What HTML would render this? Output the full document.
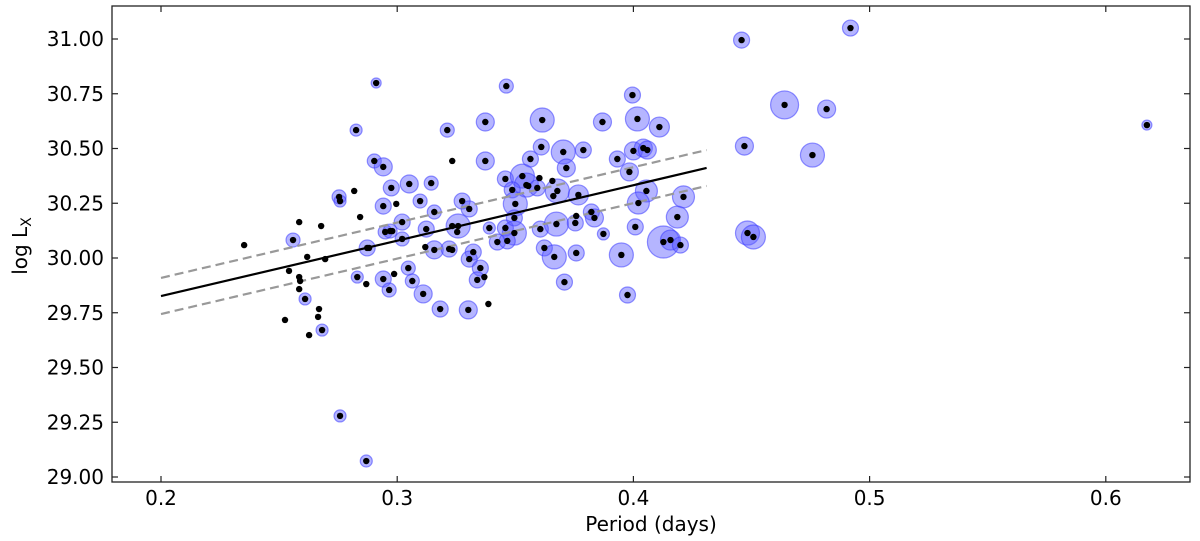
<!DOCTYPE html>
<html><head><meta charset="utf-8"><style>
html,body{margin:0;padding:0;background:#fff;}
svg{display:block;font-family:"DejaVu Sans","Liberation Sans",sans-serif;}
</style></head><body>
<svg id="chart" width="1200" height="541" viewBox="0 0 1200 541" xmlns="http://www.w3.org/2000/svg">
<g id="halos"></g>
<g id="fits"></g>
<g id="dots"></g>
<rect x="112" y="6" width="1078" height="476" fill="none" stroke="#222" stroke-width="1.3"/>
<g id="axes"></g>
<text x="651" y="531" font-size="20" text-anchor="middle">Period (days)</text>
<text transform="translate(27,246) rotate(-90)" font-size="20" text-anchor="middle">log L<tspan font-size="14" dy="4">X</tspan></text>
</svg>
<script>
const periods=[0.2352,0.2559,0.2585,0.2678,0.2542,0.2585,0.2589,0.2585,0.2610,0.2525,0.2669,0.2665,0.2627,0.2682,0.2619,0.2695,0.2758,0.2869,0.2911,0.2826,0.2903,0.2941,0.2818,0.2754,0.2758,0.2843,0.2975,0.3051,0.3144,0.2941,0.2996,0.3097,0.3157,0.3021,0.2949,0.2970,0.2979,0.3021,0.3123,0.2873,0.2881,0.3119,0.3157,0.3220,0.3233,0.2831,0.2869,0.2941,0.2987,0.3047,0.3064,0.2966,0.3110,0.3182,0.3301,0.3275,0.3305,0.3233,0.3212,0.3373,0.3373,0.3233,0.3258,0.3254,0.3322,0.3305,0.3352,0.3339,0.3369,0.3386,0.3462,0.3614,0.3869,0.3996,0.4017,0.4110,0.3610,0.3564,0.3703,0.3788,0.3716,0.4000,0.4042,0.4059,0.3932,0.3983,0.3458,0.3530,0.3547,0.3555,0.3602,0.3593,0.3657,0.3678,0.3661,0.3487,0.3500,0.3767,0.4055,0.4021,0.4212,0.4186,0.3390,0.3458,0.3496,0.3496,0.3606,0.3674,0.3754,0.3758,0.3822,0.3835,0.3873,0.4008,0.3424,0.3466,0.4127,0.4157,0.4199,0.3623,0.3665,0.3758,0.3949,0.3708,0.3975,0.4458,0.4919,0.4640,0.4818,0.4470,0.4758,0.4483,0.4508,0.6174];
const logLx=[30.059,30.082,30.164,30.146,29.941,29.913,29.895,29.858,29.813,29.717,29.767,29.731,29.648,29.671,30.005,29.995,29.279,29.073,30.799,30.584,30.443,30.416,30.306,30.279,30.260,30.187,30.320,30.338,30.342,30.237,30.247,30.260,30.210,30.164,30.119,30.123,30.123,30.087,30.132,30.046,30.046,30.050,30.037,30.041,30.037,29.913,29.881,29.904,29.927,29.954,29.895,29.854,29.836,29.767,29.763,30.260,30.224,30.443,30.584,30.621,30.443,30.146,30.146,30.119,30.027,29.995,29.954,29.900,29.913,29.790,30.785,30.630,30.621,30.744,30.635,30.598,30.507,30.452,30.484,30.493,30.411,30.489,30.502,30.493,30.452,30.393,30.361,30.374,30.333,30.329,30.365,30.320,30.352,30.306,30.283,30.311,30.247,30.288,30.306,30.251,30.279,30.187,30.137,30.137,30.183,30.114,30.132,30.155,30.160,30.192,30.210,30.183,30.110,30.142,30.073,30.078,30.073,30.082,30.059,30.046,30.005,30.023,30.014,29.890,29.831,30.995,31.050,30.699,30.680,30.511,30.470,30.114,30.096,30.607];
const haloSizes=[0,7,0,0,0,0,0,0,6,0,0,0,0,6,0,0,6,6,5,6,7,9,0,7,6,0,8,9,7,8,0,7,7,8,7,7,0,7,8,8,0,0,9,8,0,6,0,8,0,7,7,7,9,8,9,8,8,0,7,9,9,0,12,0,8,8,8,8,0,0,7,12,9,8,12,10,8,8,12,8,9,9,9,9,8,9,8,12,12,0,0,8,0,12,0,8,12,10,11,11,11,11,6,8,8,12,8,12,8,0,8,9,6,8,8,8,16,10,8,8,12,8,12,8,8,8,8,14,9,9,12,12,12,5];
const fitPeriods=[0.2,0.431];
const fitMid=[29.826,30.411];
const fitUpper=[29.909,30.493];
const fitLower=[29.744,30.329];
const xTicks=[0.2,0.3,0.4,0.5,0.6];
const xTickLabels=["0.2","0.3","0.4","0.5","0.6"];
const yTicks=[29.0,29.25,29.5,29.75,30.0,30.25,30.5,30.75,31.0];
const yTickLabels=["29.00","29.25","29.50","29.75","30.00","30.25","30.50","30.75","31.00"];

const NS="http://www.w3.org/2000/svg";
const X=p=>161+(p-0.2)*2362;
const Y=v=>477-(v-29)*219;
function mk(tag,attrs,parent){const e=document.createElementNS(NS,tag);for(const k in attrs)e.setAttribute(k,attrs[k]);parent.appendChild(e);return e;}
const halos=document.getElementById('halos'),dots=document.getElementById('dots'),fits=document.getElementById('fits'),axes=document.getElementById('axes');
periods.forEach((p,i)=>{
  const s=haloSizes[i];
  if(s>0){
    const h=mk('circle',{cx:X(p),cy:Y(logLx[i]),r:s,fill:'rgba(90,90,255,0.45)',stroke:'rgba(60,60,255,0.55)','stroke-width':1.2},halos);
    
    
  }
  const d=mk('circle',{cx:X(p),cy:Y(logLx[i]),r:3.2,fill:'#000'},dots);
  
  
});
const l1=mk('line',{x1:X(fitPeriods[0]),y1:Y(fitUpper[0]),x2:X(fitPeriods[1]),y2:Y(fitUpper[1]),stroke:'#999','stroke-width':2.2,'stroke-dasharray':'9,5'},fits);


const l2=mk('line',{x1:X(fitPeriods[0]),y1:Y(fitLower[0]),x2:X(fitPeriods[1]),y2:Y(fitLower[1]),stroke:'#999','stroke-width':2.2,'stroke-dasharray':'9,5'},fits);


const l3=mk('line',{x1:X(fitPeriods[0]),y1:Y(fitMid[0]),x2:X(fitPeriods[1]),y2:Y(fitMid[1]),stroke:'#000','stroke-width':2.2},fits);


xTicks.forEach((t,i)=>{
  const x=X(t);
  mk('line',{x1:x,y1:482,x2:x,y2:476,stroke:'#222','stroke-width':1.2},axes);
  mk('line',{x1:x,y1:6,x2:x,y2:12,stroke:'#222','stroke-width':1.2},axes);
  const tx=mk('text',{x:x,y:505,'font-size':20,'text-anchor':'middle'},axes);
  tx.textContent=xTickLabels[i];
  
  
});
yTicks.forEach((t,i)=>{
  const y=Y(t);
  mk('line',{x1:112,y1:y,x2:118,y2:y,stroke:'#222','stroke-width':1.2},axes);
  mk('line',{x1:1190,y1:y,x2:1184,y2:y,stroke:'#222','stroke-width':1.2},axes);
  const tx=mk('text',{x:104,y:y+7,'font-size':20,'text-anchor':'end'},axes);
  tx.textContent=yTickLabels[i];
  
  
});
</script>
</body></html>
